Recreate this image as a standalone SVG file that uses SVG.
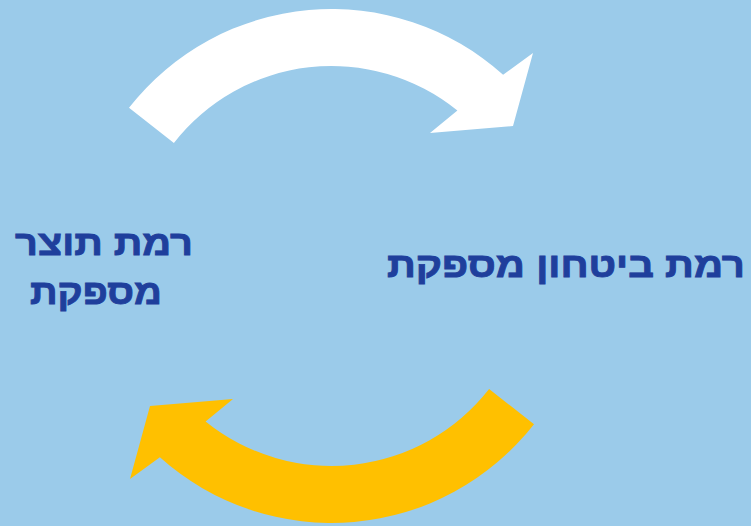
<svg xmlns="http://www.w3.org/2000/svg" width="751" height="526" viewBox="0 0 751 526">
<style>
.lbl{font-family:"Liberation Sans","DejaVu Sans",sans-serif;font-weight:bold;font-size:35px;fill:#1F3F9C;stroke:#1F3F9C;stroke-width:0.9;text-anchor:middle;direction:rtl}
</style>
<rect x="0" y="0" width="751" height="526" fill="#9BCBEA"/>
<g id="connectors">
<path id="arrow-top" fill="#FFFFFF" d="M 129,107.8 A 257 257 0 0 1 503.1,74.7 L 533,53 L 513,126 L 430,133 L 457.4,110.6 A 200 200 0 0 0 173.9,142.9 Z"/>
<path id="arrow-bottom" fill="#FFC000" d="M 534,424.2 A 257 257 0 0 1 159.9,457.3 L 130,479 L 150,406 L 233,399 L 205.6,421.4 A 200 200 0 0 0 489.1,389.1 Z"/>
</g>
<g id="node-product">
<text class="lbl" x="104" y="255" textLength="178" lengthAdjust="spacingAndGlyphs">רמת תוצר</text>
<text class="lbl" x="96" y="304" textLength="132" lengthAdjust="spacingAndGlyphs">מספקת</text>
</g>
<g id="node-security">
<text class="lbl" x="566" y="277" textLength="358" lengthAdjust="spacingAndGlyphs">רמת ביטחון מספקת</text>
</g>
</svg>
